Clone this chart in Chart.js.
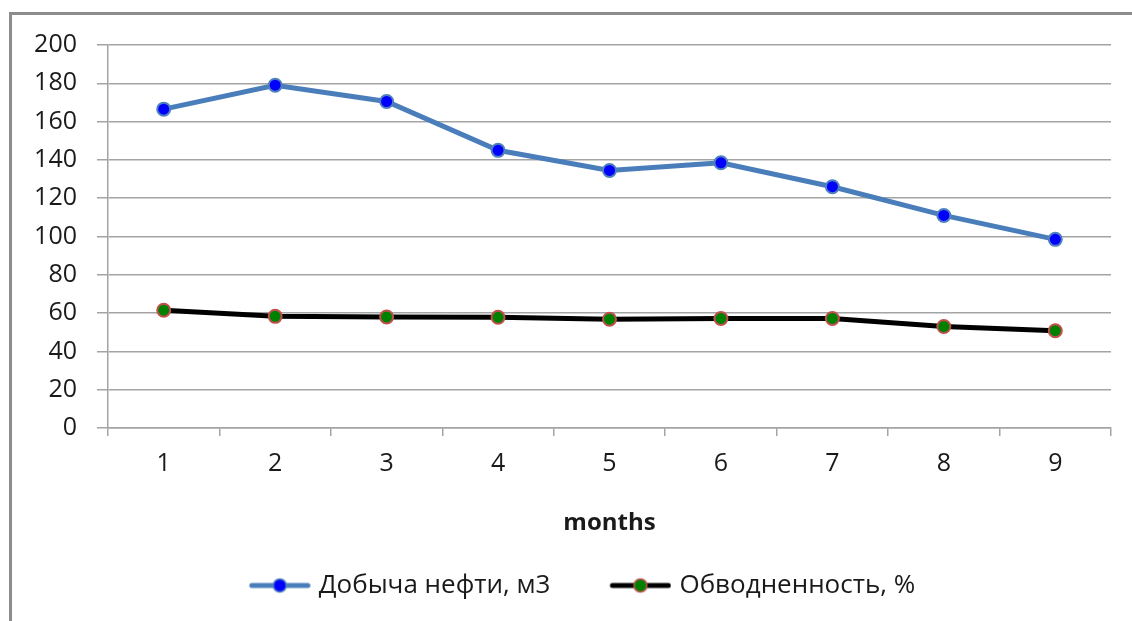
<!DOCTYPE html>
<html>
<head>
<meta charset="utf-8">
<style>
  html, body { margin: 0; padding: 0; background: #ffffff; }
  #wrap { position: relative; width: 1132px; height: 621px; }
</style>
<script src="https://cdn.jsdelivr.net/npm/chart.js@4/dist/chart.umd.min.js"></script>
</head>
<body>
<div id="wrap"><canvas id="chart" width="1132" height="621"></canvas></div>
<script>
// Month numbers along the x axis
const months = ['1', '2', '3', '4', '5', '6', '7', '8', '9'];
// Oil production, m3
const oilProduction = [166.5, 179, 170.5, 145, 134.5, 138.5, 126, 111, 98.5];
// Water cut, %
const waterCut = [61.5, 58.3, 58, 57.8, 56.8, 57.2, 57.2, 53, 50.8];
// Series names
const seriesNames = ['Добыча нефти, м3', 'Обводненность, %'];
// Value axis range
const yMin = 0, yMax = 200, yStep = 20;

const textColor = '#1a1a1a';
const gridColor = '#a4a4a4';
const fontFamily = '"Open Sans", "Liberation Sans", sans-serif';

// Legend swatch: a short line with a marker in its middle
const LEGEND_BOX = 106;
function legendSwatch(lineColor, fill, stroke) {
  const c = document.createElement('canvas');
  c.width = LEGEND_BOX + 10;
  c.height = 18;
  const g = c.getContext('2d');
  const x1 = c.width - 62, x2 = c.width, cy = 9;
  g.strokeStyle = lineColor;
  g.lineWidth = 5;
  g.lineCap = 'round';
  g.beginPath();
  g.moveTo(x1 + 3, cy);
  g.lineTo(x2 - 3, cy);
  g.stroke();
  g.beginPath();
  g.arc((x1 + x2) / 2, cy, 6.5, 0, Math.PI * 2);
  g.fillStyle = fill;
  g.fill();
  g.lineWidth = 1.5;
  g.strokeStyle = stroke;
  g.stroke();
  return c;
}
const swatches = [
  legendSwatch('#4a7ebb', '#0000ff', '#4f81bd'),
  legendSwatch('#000000', '#008000', '#c0504d')
];

// Grey frame along the top and left edges
const framePlugin = {
  id: 'frame',
  beforeDraw(chart) {
    const ctx = chart.ctx;
    ctx.save();
    ctx.fillStyle = '#ffffff';
    ctx.fillRect(0, 0, chart.width, chart.height);
    ctx.fillStyle = '#8c8c8c';
    ctx.fillRect(9, 12, 3, chart.height - 12);
    ctx.fillRect(9, 12, chart.width - 9, 3);
    ctx.restore();
  }
};

new Chart(document.getElementById('chart'), {
  type: 'line',
  data: {
    labels: months,
    datasets: [
      {
        label: seriesNames[0],
        data: oilProduction,
        borderColor: '#4a7ebb',
        borderWidth: 5,
        pointRadius: 6.5,
        pointHoverRadius: 6.5,
        pointBackgroundColor: '#0000ff',
        pointBorderColor: '#4f81bd',
        pointBorderWidth: 2,
        tension: 0
      },
      {
        label: seriesNames[1],
        data: waterCut,
        borderColor: '#000000',
        borderWidth: 5,
        pointRadius: 6.5,
        pointHoverRadius: 6.5,
        pointBackgroundColor: '#008000',
        pointBorderColor: '#c0504d',
        pointBorderWidth: 2,
        tension: 0
      }
    ]
  },
  plugins: [framePlugin],
  options: {
    responsive: false,
    animation: false,
    devicePixelRatio: 1,
    layout: { padding: { top: 45, left: 4, right: 21, bottom: 12.5 } },
    scales: {
      x: {
        offset: true,
        grid: {
          offset: true,
          drawOnChartArea: false,
          tickLength: 8,
          color: gridColor,
          lineWidth: 1.5
        },
        border: { color: gridColor, width: 1.5 },
        ticks: {
          color: textColor,
          padding: 13,
          font: { family: fontFamily, size: 25 }
        },
        title: {
          display: true,
          text: 'months',
          color: textColor,
          padding: { top: 0, bottom: 25 },
          font: { family: fontFamily, size: 24, weight: 'bold' }
        },
        afterFit(scale) { scale.height = 134.5; }
      },
      y: {
        min: yMin,
        max: yMax,
        ticks: {
          stepSize: yStep,
          color: textColor,
          padding: 20,
          font: { family: fontFamily, size: 25 }
        },
        grid: {
          color: gridColor,
          lineWidth: 1.5,
          tickLength: 11
        },
        border: { color: gridColor, width: 1.5 },
        afterFit(scale) { scale.width = 104; }
      }
    },
    plugins: {
      tooltip: { enabled: false },
      legend: {
        position: 'bottom',
        labels: {
          usePointStyle: true,
          pointStyleWidth: LEGEND_BOX,
          padding: 10,
          color: textColor,
          font: { family: fontFamily, size: 26 },
          generateLabels(chart) {
            const items = Chart.defaults.plugins.legend.labels.generateLabels(chart);
            items.forEach((item, i) => { item.pointStyle = swatches[i]; });
            return items;
          }
        }
      }
    }
  }
});
</script>
</body>
</html>
